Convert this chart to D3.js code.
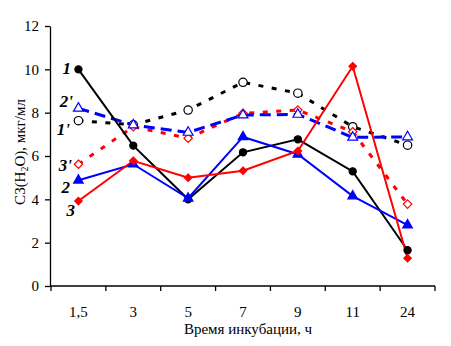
<!DOCTYPE html>
<html><head><meta charset="utf-8">
<script src="https://cdn.jsdelivr.net/npm/d3@7"></script>
<style>
body{margin:0;background:#fff;}
text{font-family:"Liberation Serif","Times New Roman",serif;}
</style></head>
<body><svg id="c" width="451" height="346"></svg>
<script>
const categories = ["1,5","3","5","7","9","11","24"];
const yTicks = [0,2,4,6,8,10,12];
const s1  = [10.0, 6.48, 4.0, 6.17, 6.77, 5.29, 1.65];
const s2  = [4.88, 5.62, 4.05, 6.88, 6.08, 4.15, 2.81];
const s3  = [3.92, 5.78, 5.0, 5.32, 6.23, 10.14, 1.28];
const s1p = [7.63, 7.44, 8.12, 9.40, 8.90, 7.35, 6.50];
const s2p = [8.20, 7.43, 7.09, 7.89, 7.92, 6.86, 6.88];
const s3p = [5.62, 7.35, 6.82, 7.97, 8.12, 7.12, 3.78];
const seriesNames = ["1","2","3","1'","2'","3'"];

const svg = d3.select("#c");
const x = d3.scaleBand().domain(categories).range([51,435]).padding(0);
const y = d3.scaleLinear().domain([0,12]).range([286,26]);
const cx = c => x(c) + x.bandwidth()/2;

// y axis
const ya = svg.append("g").attr("transform","translate(50,0)")
  .call(d3.axisLeft(y).tickValues(yTicks).tickSize(5).tickSizeOuter(0).tickPadding(6));
ya.attr("font-family",null);
ya.select(".domain").attr("stroke","#000").attr("stroke-width",1.3);
ya.selectAll(".tick line").attr("stroke","#000").attr("stroke-width",1.3);
ya.selectAll(".tick text").attr("font-size",15).attr("fill","#000");

// x axis
const xg = svg.append("g");
xg.append("line").attr("x1",x.range()[0]-1).attr("x2",x.range()[1]).attr("y1",y(0)).attr("y2",y(0))
  .attr("stroke","#000").attr("stroke-width",1.3);
const bounds = categories.map(c=>x(c)).concat([x.range()[1]]);
xg.selectAll(".xt").data(bounds).enter().append("line")
  .attr("x1",d=>d).attr("x2",d=>d).attr("y1",y(0)).attr("y2",y(0)+5)
  .attr("stroke","#000").attr("stroke-width",1.3);
xg.selectAll(".xl").data(categories).enter().append("text")
  .attr("x",d=>cx(d)).attr("y",317).attr("text-anchor","middle").attr("font-size",15).text(d=>d);
svg.append("text").attr("x",248).attr("y",334).attr("text-anchor","middle").attr("font-size",15)
  .text("Время инкубации, ч");
const yt = svg.append("text").attr("transform","translate(25,152) rotate(-90)").attr("text-anchor","middle").attr("font-size",15);
yt.append("tspan").text("C3(H");
yt.append("tspan").attr("font-size",10).attr("dy",3).text("2");
yt.append("tspan").attr("dy",-3).text("O), мкг/мл");

const line = d3.line().x((d,i)=>cx(categories[i])).y(d=>y(d));

const defs = [
  {data:s1p, color:"#000", dash:"5,8.5", sym:d3.symbolCircle, size:55, fill:"#fff"},
  {data:s3p, color:"#f00", dash:"5,8.5", sym:d3.symbolDiamond2, size:45, fill:"#fff"},
  {data:s2p, color:"#00f", dash:"11,6", sym:d3.symbolTriangle, size:42, fill:"#fff"},
  {data:s1, color:"#000", dash:null, sym:d3.symbolCircle, size:40, fill:"#000"},
  {data:s2, color:"#00f", dash:null, sym:d3.symbolTriangle, size:40, fill:"#00f"},
  {data:s3, color:"#f00", dash:null, sym:d3.symbolDiamond2, size:36, fill:"#f00"}
];
defs.forEach(s=>{
  svg.append("path").datum(s.data).attr("d",line).attr("fill","none")
    .attr("stroke",s.color).attr("stroke-width",s.dash?3:2)
    .attr("stroke-dasharray",s.dash);
});
defs.forEach(s=>{
  svg.selectAll(null).data(s.data).enter().append("path")
    .attr("d",d3.symbol().type(s.sym).size(s.size))
    .attr("transform",(d,i)=>`translate(${cx(categories[i])},${y(d)})`)
    .attr("fill",s.fill).attr("stroke",s.color).attr("stroke-width",1.2);
});

// series labels
const labelPos = [
  {t:seriesNames[0], x:71, y:74},
  {t:seriesNames[1], x:70, y:193},
  {t:seriesNames[2], x:75, y:216},
  {t:seriesNames[3], x:70, y:135},
  {t:seriesNames[4], x:73, y:107},
  {t:seriesNames[5], x:72, y:171}
];
svg.selectAll(".lab").data(labelPos).enter().append("text")
  .attr("x",d=>d.x).attr("y",d=>d.y).attr("text-anchor","end")
  .attr("font-size",17).attr("font-style","italic").attr("font-weight","bold").text(d=>d.t);
</script></body></html>
